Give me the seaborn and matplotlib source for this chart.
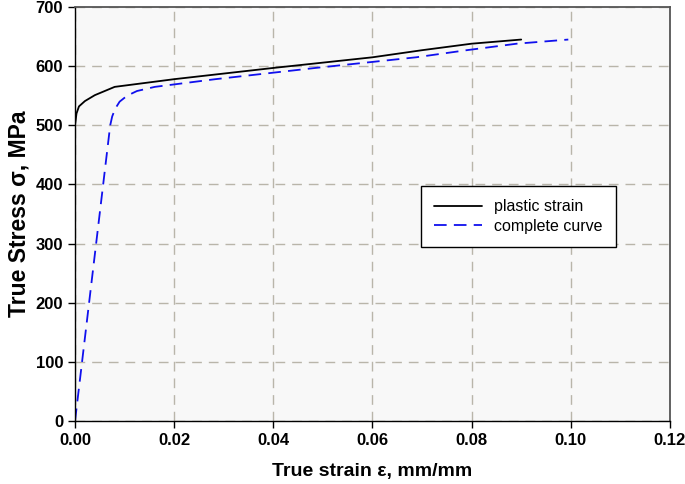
import matplotlib
matplotlib.use("Agg")
import pandas as pd
import matplotlib.pyplot as plt
import seaborn as sns

# plastic strain curve (black)
plastic_strain = [0.0, 0.0003, 0.0008, 0.002, 0.004, 0.008, 0.02, 0.04, 0.06, 0.07, 0.08, 0.09]
plastic_stress = [500, 520, 532, 541, 551, 565, 578, 597, 615, 627, 638, 645]

# complete curve (blue dashed)
complete_strain = [0.0, 0.0071, 0.0075, 0.0081, 0.0090, 0.0105, 0.0125, 0.0161, 0.0283, 0.0485, 0.0688, 0.079, 0.0891, 0.0995]
complete_stress = [0, 500, 515, 528, 540, 550, 558, 565, 578, 597, 615, 627, 638, 645]

df = pd.concat([
    pd.DataFrame({'strain': plastic_strain, 'stress': plastic_stress, 'curve': 'plastic strain'}),
    pd.DataFrame({'strain': complete_strain, 'stress': complete_stress, 'curve': 'complete curve'}),
], ignore_index=True)

sns.set_style("ticks")
plt.rcParams['font.family'] = ['Liberation Sans', 'DejaVu Sans']
plt.rcParams['text.color'] = 'black'
plt.rcParams['axes.labelcolor'] = 'black'
plt.rcParams['xtick.color'] = 'black'
plt.rcParams['ytick.color'] = 'black'

fig = plt.figure(figsize=(6.85, 4.84), dpi=100)
ax = fig.add_axes([0.1095, 0.130, 0.8685, 0.8555])
ax.set_facecolor('#f8f8f8')

sns.lineplot(data=df, x='strain', y='stress', hue='curve', style='curve',
             palette={'plastic strain': 'black', 'complete curve': '#1010ee'},
             dashes={'plastic strain': '', 'complete curve': (7, 4)},
             sort=False, estimator=None, linewidth=1.3, ax=ax)

ax.set_xlim(0, 0.12)
ax.set_ylim(0, 700)
ax.set_xticks([0, 0.02, 0.04, 0.06, 0.08, 0.10, 0.12])
ax.set_xticklabels(['0.00', '0.02', '0.04', '0.06', '0.08', '0.10', '0.12'])
ax.set_yticks(range(0, 701, 100))
ax.grid(True, color='#b9b5aa', linestyle=(0, (7, 5)), linewidth=1.0)
ax.set_axisbelow(True)

for s in ['top', 'right']:
    ax.spines[s].set_color('#555555')
    ax.spines[s].set_linewidth(1.3)
for s in ['left', 'bottom']:
    ax.spines[s].set_color('black')
    ax.spines[s].set_linewidth(1.0)

ax.tick_params(direction='out', length=5, width=1, labelsize=12, colors='black')
for lbl in ax.get_xticklabels() + ax.get_yticklabels():
    lbl.set_fontweight('bold')

ax.set_xlabel('True strain \u03b5, mm/mm', fontsize=14, fontweight='bold', labelpad=11)
ax.set_ylabel('True Stress \u03c3, MPa', fontsize=16.5, fontweight='bold', labelpad=4)

leg = ax.legend(title=None, loc='upper left', bbox_to_anchor=(0.568, 0.586),
                fontsize=11.5, frameon=True, fancybox=False, framealpha=1,
                edgecolor='black', borderpad=0.8, handlelength=3.0,
                labelspacing=0.3)
leg.get_frame().set_linewidth(1.0)

fig.savefig('out.png', dpi=100)
